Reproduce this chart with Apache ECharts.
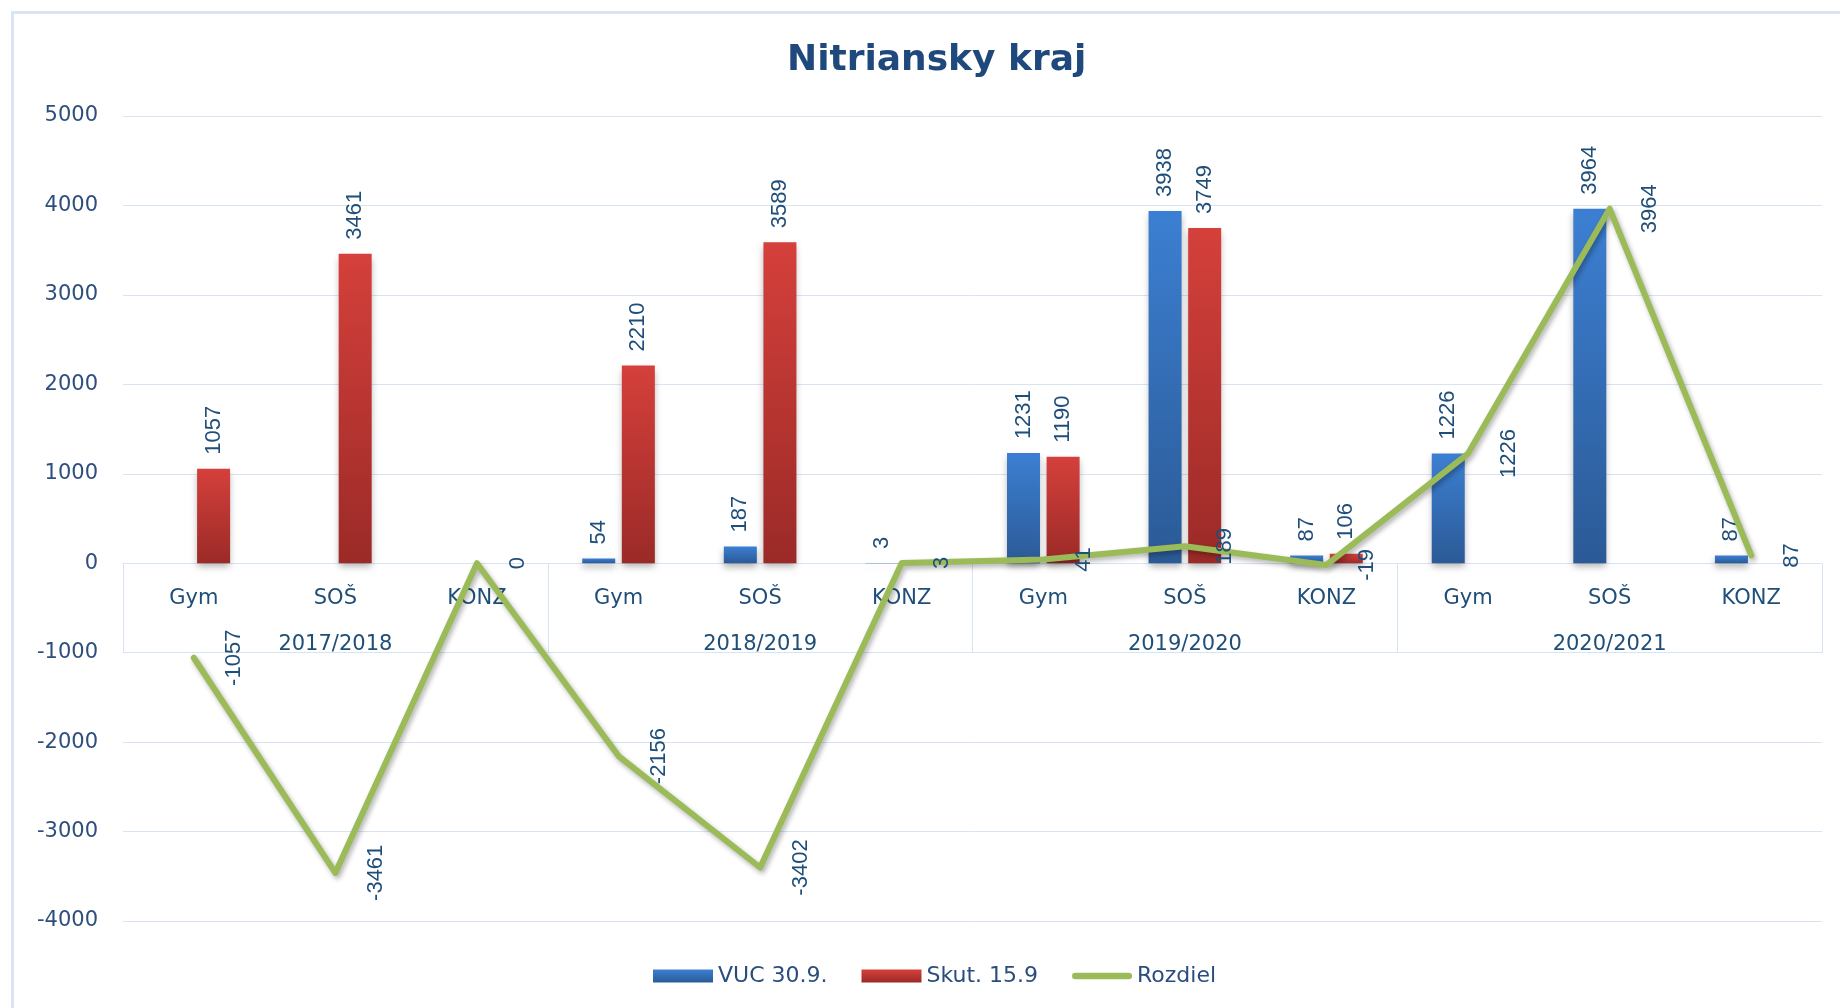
<!DOCTYPE html>
<html>
<head>
<meta charset="utf-8">
<title>Nitriansky kraj</title>
<script src="https://cdn.jsdelivr.net/npm/echarts@6/dist/echarts.min.js"></script>
<style>
  html, body { margin: 0; padding: 0; background: #ffffff; }
  #frame { position: absolute; left: 11px; top: 11px; width: 1840px; height: 1008px;
           border-left: 3px solid #d9e5f6; border-top: 3px solid #d9e5f6; box-sizing: border-box;
           pointer-events: none; z-index: 2; }
  #chart { position: absolute; left: 0; top: 0; width: 1840px; height: 1008px; }
</style>
</head>
<body>
<div id="chart"></div>
<div id="frame"></div>
<script>
// School years and school types (three types per year)
const years = ['2017/2018', '2018/2019', '2019/2020', '2020/2021'];
const schoolTypes = ['Gym', 'SOŠ', 'KONZ'];

// Series values, one per (year, school type); null = no value reported
const vuc = [null, null, null, 54, 187, 3, 1231, 3938, 87, 1226, 3964, 87];
const skut = [1057, 3461, null, 2210, 3589, null, 1190, 3749, 106, null, null, null];
const rozdiel = [-1057, -3461, 0, -2156, -3402, 3, 41, 189, -19, 1226, 3964, 87];

// Value axis range
const yMin = -4000;
const yMax = 5000;
const yStep = 1000;

// Flat category list; the year is printed as a second line under the middle type
const categories = [];
const categoryLabels = [];
years.forEach(function (y) {
  schoolTypes.forEach(function (t, i) {
    categories.push(y + ' ' + t);
    categoryLabels.push(i === 1 ? t + '\n' + y : t);
  });
});

const labelColor = '#1f4e79';
const gridColor = '#d9e4f3';

// Plot area; the second grid ends exactly at the zero line so its x axis sits there
const plotLeft = 123, plotRight = 18, plotTop = 116, plotBottom = 87;
const plotHeight = 1008 - plotTop - plotBottom;
const zeroFromBottom = 1008 - (plotTop + plotHeight * yMax / (yMax - yMin));

const barLabel = {
  show: true,
  position: 'top',
  distance: 14,
  rotate: 90,
  align: 'left',
  verticalAlign: 'middle',
  color: labelColor,
  fontFamily: 'Liberation Sans',
  fontSize: 22
};

const chart = echarts.init(document.getElementById('chart'), null, { renderer: 'canvas' });

chart.setOption({
  animation: false,
  backgroundColor: '#ffffff',
  title: {
    text: 'Nitriansky kraj',
    left: 782,
    top: 38,
    textStyle: {
      fontFamily: 'DejaVu Sans',
      fontWeight: 'bold',
      fontSize: 36,
      color: '#1f497d'
    }
  },
  legend: {
    left: 648,
    top: 960,
    itemWidth: 60,
    itemHeight: 13,
    itemGap: 34,
    textStyle: {
      fontFamily: 'DejaVu Sans',
      fontSize: 22,
      color: '#2a4d7d'
    },
    data: [
      { name: 'VUC 30.9.', icon: 'rect' },
      { name: 'Skut. 15.9', icon: 'rect' },
      { name: 'Rozdiel', icon: 'path://M3.5,0 L61.5,0 A3.5,3.5 0 0 1 61.5,7 L3.5,7 A3.5,3.5 0 0 1 3.5,0 Z' }
    ]
  },
  grid: [
    { left: plotLeft, right: plotRight, top: plotTop, bottom: plotBottom },
    { left: plotLeft, right: plotRight, top: plotTop, bottom: zeroFromBottom }
  ],
  xAxis: [
    {
      type: 'category',
      gridIndex: 0,
      data: categories,
      axisLine: {
        show: true,
        onZero: true,
        lineStyle: { color: gridColor, width: 1 }
      },
      axisTick: { show: false },
      axisLabel: { show: false },
      splitLine: { show: false }
    },
    {
      type: 'category',
      gridIndex: 1,
      data: categoryLabels,
      axisLine: { show: false },
      axisTick: {
        show: true,
        alignWithLabel: false,
        length: 90,
        interval: function (index) { return index % schoolTypes.length === 0; },
        lineStyle: { color: gridColor, width: 1 }
      },
      axisLabel: {
        interval: 0,
        margin: 12,
        lineHeight: 46,
        fontFamily: 'DejaVu Sans',
        fontSize: 21,
        color: labelColor
      },
      splitLine: { show: false }
    }
  ],
  yAxis: [
    {
      type: 'value',
      gridIndex: 0,
      min: yMin,
      max: yMax,
      interval: yStep,
      axisLine: { show: false },
      axisTick: { show: false },
      axisLabel: {
        margin: 25,
        fontFamily: 'DejaVu Sans',
        fontSize: 21,
        color: '#2e4f7e',
        formatter: function (v) { return String(v); }
      },
      splitLine: { lineStyle: { color: gridColor, width: 1 } }
    },
    {
      type: 'value',
      gridIndex: 1,
      min: 0,
      max: yMax,
      show: false
    }
  ],
  series: [
    {
      name: 'VUC 30.9.',
      type: 'bar',
      xAxisIndex: 0,
      yAxisIndex: 0,
      data: vuc,
      barWidth: 33,
      barGap: '20%',
      itemStyle: {
        color: new echarts.graphic.LinearGradient(0, 0, 0, 1, [
          { offset: 0, color: '#3c7fd2' },
          { offset: 1, color: '#2b5a96' }
        ]),
        shadowBlur: 7,
        shadowOffsetY: 4,
        shadowColor: 'rgba(0,0,0,0.3)'
      },
      label: barLabel
    },
    {
      name: 'Skut. 15.9',
      type: 'bar',
      xAxisIndex: 0,
      yAxisIndex: 0,
      data: skut,
      barWidth: 33,
      barGap: '20%',
      itemStyle: {
        color: new echarts.graphic.LinearGradient(0, 0, 0, 1, [
          { offset: 0, color: '#d5403b' },
          { offset: 1, color: '#9b2a27' }
        ]),
        shadowBlur: 7,
        shadowOffsetY: 4,
        shadowColor: 'rgba(0,0,0,0.3)'
      },
      label: barLabel
    },
    {
      name: 'Rozdiel',
      type: 'line',
      xAxisIndex: 0,
      yAxisIndex: 0,
      data: rozdiel,
      symbol: 'circle',
      symbolSize: 1,
      showSymbol: true,
      z: 5,
      itemStyle: { color: '#9bbb59' },
      lineStyle: {
        color: '#9bbb59',
        width: 6,
        cap: 'round',
        join: 'round',
        shadowBlur: 5,
        shadowOffsetX: 2,
        shadowOffsetY: 3,
        shadowColor: 'rgba(0,0,0,0.3)'
      },
      label: {
        show: true,
        position: 'right',
        distance: 40,
        rotate: 90,
        align: 'center',
        verticalAlign: 'middle',
        color: labelColor,
        fontFamily: 'Liberation Sans',
        fontSize: 22
      }
    }
  ]
});
</script>
</body>
</html>
